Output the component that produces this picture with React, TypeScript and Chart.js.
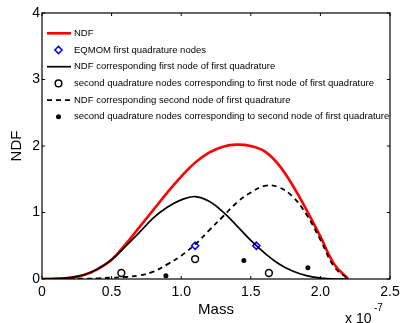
import React, { useEffect, useRef } from "react";
import { Chart, registerables } from "chart.js";

Chart.register(...registerables);

// Mass grid (units of 1e-7)
const massGrid = [0, 0.1, 0.2, 0.3, 0.4, 0.5, 0.6, 0.7, 0.8, 0.9, 1.0, 1.1, 1.2, 1.3, 1.4, 1.5, 1.6, 1.7, 1.8, 1.9, 2.0, 2.1, 2.2];
const ndfTotal = [0, 0.005, 0.02, 0.06, 0.15, 0.29, 0.52, 0.78, 1.04, 1.3, 1.54, 1.75, 1.9, 1.99, 2.02, 2.0, 1.92, 1.72, 1.41, 1.04, 0.64, 0.22, 0];
const ndfFirstNode = [0, 0.005, 0.02, 0.06, 0.15, 0.29, 0.49, 0.7, 0.92, 1.08, 1.19, 1.24, 1.17, 1.01, 0.8, 0.58, 0.39, 0.23, 0.12, 0.05, 0.015, 0, 0];
const ndfSecondNode = [0, 0, 0.002, 0.005, 0.01, 0.02, 0.03, 0.055, 0.11, 0.22, 0.35, 0.52, 0.73, 0.94, 1.15, 1.3, 1.4, 1.38, 1.24, 0.97, 0.59, 0.18, 0];

const eqmomMass = [1.1, 1.54];
const eqmomNDF = [0.5, 0.5];
const secondOfFirstMass = [0.57, 1.1, 1.63];
const secondOfFirstNDF = [0.09, 0.3, 0.09];
const secondOfSecondMass = [0.89, 1.45, 1.91];
const secondOfSecondNDF = [0.05, 0.28, 0.17];

const xTicks = [0, 0.5, 1, 1.5, 2, 2.5];
const yTicks = [0, 1, 2, 3, 4];

const legendLabels = [
  "NDF",
  "EQMOM first quadrature nodes",
  "NDF corresponding first node of first quadrature",
  "second quadrature nodes corresponding to first node of first quadrature",
  "NDF corresponding second node of first quadrature",
  "second quadrature nodes corresponding to second node of first quadrature",
];

const FONT = "'Liberation Sans', Arial, Helvetica, sans-serif";

const pts = (xs: number[], ys: number[]) => xs.map((x, i) => ({ x, y: ys[i] }));

const decorPlugin = {
  id: "decor",
  afterDraw(chart: any) {
    const { ctx, chartArea: a, scales } = chart;
    const xs = scales.x;
    const ys = scales.y;
    ctx.save();
    // frame
    ctx.strokeStyle = "#000";
    ctx.lineWidth = 1.2;
    ctx.strokeRect(a.left, a.top, a.right - a.left, a.bottom - a.top);
    // inward ticks
    const tl = 3;
    ctx.beginPath();
    xTicks.forEach((v) => {
      const px = xs.getPixelForValue(v);
      ctx.moveTo(px, a.bottom);
      ctx.lineTo(px, a.bottom - tl);
      ctx.moveTo(px, a.top);
      ctx.lineTo(px, a.top + tl);
    });
    yTicks.forEach((v) => {
      const py = ys.getPixelForValue(v);
      ctx.moveTo(a.left, py);
      ctx.lineTo(a.left + tl, py);
      ctx.moveTo(a.right, py);
      ctx.lineTo(a.right - tl, py);
    });
    ctx.lineWidth = 1;
    ctx.stroke();

    // legend
    const lx0 = a.left + 5;
    const lx1 = a.left + 29;
    const mx = a.left + 16.5;
    const tx = a.left + 32;
    const y0 = a.top + 20.3;
    const dy = 16.7;
    ctx.font = `9.5px ${FONT}`;
    ctx.fillStyle = "#000";
    ctx.textBaseline = "middle";
    ctx.textAlign = "left";
    legendLabels.forEach((lab, i) => {
      const y = y0 + i * dy;
      ctx.save();
      if (i === 0) {
        ctx.strokeStyle = "#ff0000";
        ctx.lineWidth = 2.6;
        ctx.beginPath();
        ctx.moveTo(lx0, y);
        ctx.lineTo(lx1, y);
        ctx.stroke();
      } else if (i === 1) {
        ctx.strokeStyle = "#0000ff";
        ctx.lineWidth = 1.5;
        const r = 3.6;
        ctx.beginPath();
        ctx.moveTo(mx, y - r);
        ctx.lineTo(mx + r, y);
        ctx.lineTo(mx, y + r);
        ctx.lineTo(mx - r, y);
        ctx.closePath();
        ctx.stroke();
      } else if (i === 2) {
        ctx.strokeStyle = "#000";
        ctx.lineWidth = 1.7;
        ctx.beginPath();
        ctx.moveTo(lx0, y);
        ctx.lineTo(lx1, y);
        ctx.stroke();
      } else if (i === 3) {
        ctx.strokeStyle = "#000";
        ctx.lineWidth = 1.5;
        ctx.beginPath();
        ctx.arc(mx, y, 3.3, 0, Math.PI * 2);
        ctx.stroke();
      } else if (i === 4) {
        ctx.strokeStyle = "#000";
        ctx.lineWidth = 1.8;
        ctx.setLineDash([5, 4]);
        ctx.beginPath();
        ctx.moveTo(lx0, y);
        ctx.lineTo(lx1, y);
        ctx.stroke();
      } else {
        ctx.fillStyle = "#000";
        ctx.beginPath();
        ctx.arc(mx, y, 2.5, 0, Math.PI * 2);
        ctx.fill();
      }
      ctx.restore();
      ctx.fillText(lab, tx, y);
    });

    // axis titles
    ctx.fillStyle = "#000";
    ctx.font = `15px ${FONT}`;
    ctx.textAlign = "center";
    ctx.textBaseline = "middle";
    ctx.fillText("Mass", (a.left + a.right) / 2, 310);
    ctx.save();
    ctx.translate(17, (a.top + a.bottom) / 2);
    ctx.rotate(-Math.PI / 2);
    ctx.fillText("NDF", 0, 0);
    ctx.restore();

    // exponent
    ctx.textAlign = "left";
    ctx.textBaseline = "alphabetic";
    ctx.font = `14px ${FONT}`;
    ctx.fillText("x 10", 345, 323);
    ctx.font = `10px ${FONT}`;
    ctx.fillText("-7", 374, 310.5);
    ctx.restore();
  },
};

export default function App() {
  const ref = useRef<HTMLCanvasElement | null>(null);
  useEffect(() => {
    if (!ref.current) return;
    const lineDs = (label: string, ys: number[], color: string, width: number, order: number, dash: number[] = []) => ({
      label,
      data: pts(massGrid, ys),
      borderColor: color,
      backgroundColor: color,
      borderWidth: width,
      borderDash: dash,
      pointRadius: 0,
      showLine: true,
      fill: false,
      tension: 0.4,
      order,
    });
    const chart = new Chart(ref.current, {
      type: "line",
      data: {
        datasets: [
          lineDs(legendLabels[0], ndfTotal, "#ff0000", 2.6, 6),
          {
            label: legendLabels[1],
            data: pts(eqmomMass, eqmomNDF),
            showLine: false,
            pointStyle: "rectRot",
            pointRadius: 3.6,
            pointBorderWidth: 1.5,
            pointBorderColor: "#0000ff",
            pointBackgroundColor: "rgba(0,0,0,0)",
            order: 5,
          } as any,
          lineDs(legendLabels[2], ndfFirstNode, "#000000", 1.7, 4),
          {
            label: legendLabels[3],
            data: pts(secondOfFirstMass, secondOfFirstNDF),
            showLine: false,
            pointStyle: "circle",
            pointRadius: 3.4,
            pointBorderWidth: 1.5,
            pointBorderColor: "#000",
            pointBackgroundColor: "rgba(0,0,0,0)",
            order: 3,
          } as any,
          lineDs(legendLabels[4], ndfSecondNode, "#000000", 1.8, 2, [5, 4]),
          {
            label: legendLabels[5],
            data: pts(secondOfSecondMass, secondOfSecondNDF),
            showLine: false,
            pointStyle: "circle",
            pointRadius: 2.5,
            pointBorderWidth: 0,
            pointBorderColor: "#000",
            pointBackgroundColor: "#000",
            order: 1,
          } as any,
        ],
      },
      options: {
        responsive: false,
        animation: false,
        devicePixelRatio: 1,
        layout: { padding: { top: 13, right: 14, bottom: 0, left: 0 } },
        plugins: { legend: { display: false }, tooltip: { enabled: false }, title: { display: false } },
        scales: {
          x: {
            type: "linear",
            min: 0,
            max: 2.5,
            grid: { display: false, drawTicks: false },
            border: { display: false },
            ticks: {
              stepSize: 0.5,
              padding: 5,
              color: "#000",
              font: { family: FONT, size: 14 },
              maxRotation: 0,
              autoSkip: false,
            },
            afterFit: (s: any) => {
              s.height = 44;
              s.paddingLeft = 0;
              s.paddingRight = 0;
            },
          },
          y: {
            type: "linear",
            min: 0,
            max: 4,
            grid: { display: false, drawTicks: false },
            border: { display: false },
            ticks: {
              stepSize: 1,
              padding: 2,
              color: "#000",
              font: { family: FONT, size: 14 },
            },
            afterFit: (s: any) => {
              s.width = 42;
              s.paddingTop = 0;
              s.paddingBottom = 0;
            },
          },
        },
      },
      plugins: [decorPlugin],
    });
    return () => chart.destroy();
  }, []);
  return (
    <div style={{ position: "absolute", left: 0, top: 0, width: 404, height: 323, background: "#fff" }}>
      <canvas ref={ref} width={404} height={323} style={{ display: "block" }} />
    </div>
  );
}
